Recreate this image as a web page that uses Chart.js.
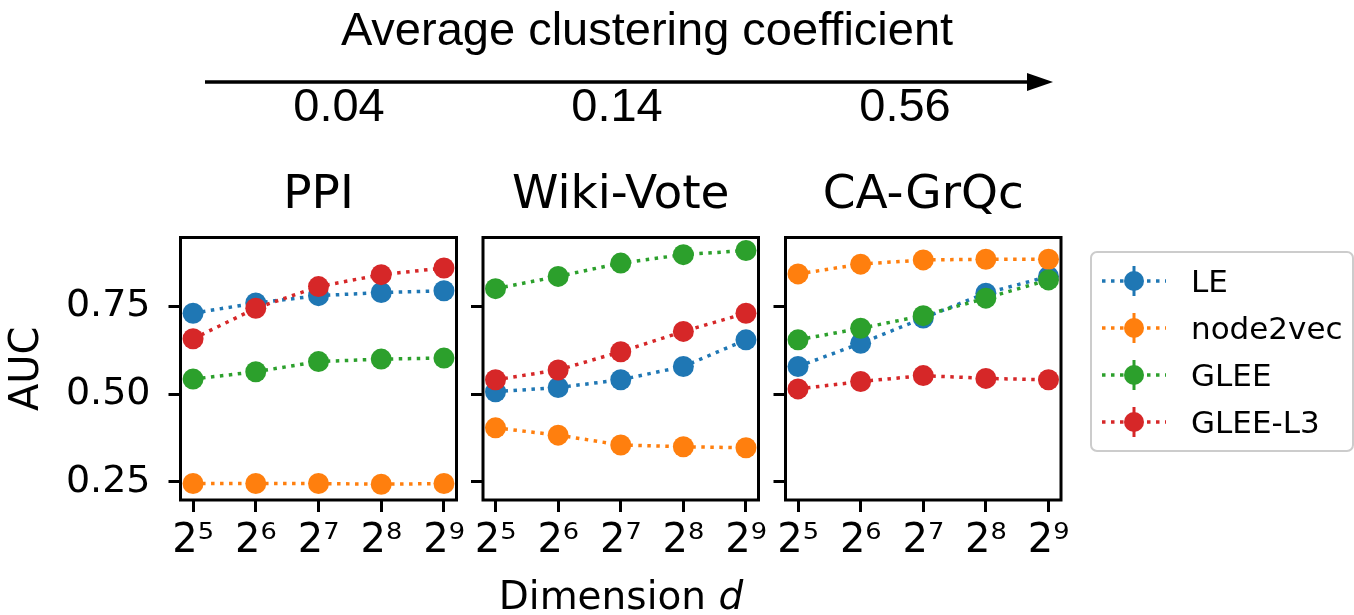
<!DOCTYPE html>
<html>
<head>
<meta charset="utf-8">
<script src="https://cdn.jsdelivr.net/npm/chart.js@4.4.0/dist/chart.umd.min.js"></script>
<style>
  body { margin: 0; background: #fff; width: 1354px; height: 615px; position: relative; overflow: hidden; }
  canvas { position: absolute; left: 0; top: 0; }
  svg { position: absolute; left: 0; top: 0; }
</style>
</head>
<body>
<canvas id="c1" width="1354" height="615"></canvas>
<canvas id="c2" width="1354" height="615"></canvas>
<canvas id="c3" width="1354" height="615"></canvas>

<svg width="1354" height="615" xmlns="http://www.w3.org/2000/svg">
  <g font-family="'Liberation Sans', Arial, sans-serif" font-size="47" fill="#000" text-anchor="middle">
    <text x="647" y="45">Average clustering coefficient</text>
    <text x="339" y="121">0.04</text>
    <text x="617" y="121">0.14</text>
    <text x="905" y="121">0.56</text>
  </g>
  <line x1="205" y1="82" x2="1030" y2="82" stroke="#000" stroke-width="3.5"/>
  <polygon points="1027,73 1053,82 1027,91" fill="#000"/>
  <text x="621" y="609" font-family="'DejaVu Sans', sans-serif" font-size="39" text-anchor="middle">Dimension <tspan font-style="italic">d</tspan></text>
  <rect x="1091" y="252" width="262" height="199" rx="6" ry="6" fill="#fff" stroke="#ccc" stroke-width="2"/>
  <g id="legend"></g>
</svg>

<script>
// x positions are log2 of the embedding dimension
const dims = [5, 6, 7, 8, 9];
const methods = ['LE', 'node2vec', 'GLEE', 'GLEE-L3'];
const colors = ['#1f77b4', '#ff7f0e', '#2ca02c', '#d62728'];

// AUC values
const ppiLE       = [0.731, 0.760, 0.781, 0.790, 0.795];
const ppiNode2vec = [0.245, 0.245, 0.245, 0.243, 0.245];
const ppiGLEE     = [0.543, 0.564, 0.593, 0.600, 0.603];
const ppiGLEEL3   = [0.658, 0.745, 0.807, 0.841, 0.860];

const wikiLE       = [0.507, 0.519, 0.541, 0.579, 0.655];
const wikiNode2vec = [0.404, 0.383, 0.355, 0.350, 0.347];
const wikiGLEE     = [0.801, 0.836, 0.874, 0.898, 0.910];
const wikiGLEEL3   = [0.541, 0.569, 0.621, 0.679, 0.731];

const grqcLE       = [0.579, 0.645, 0.717, 0.788, 0.836];
const grqcNode2vec = [0.843, 0.871, 0.883, 0.885, 0.885];
const grqcGLEE     = [0.655, 0.688, 0.724, 0.774, 0.826];
const grqcGLEEL3   = [0.515, 0.536, 0.553, 0.545, 0.541];

const yTicks = [0.25, 0.50, 0.75];

const panels = [
    { id: 'c1', title: 'PPI',       series: [ppiLE, ppiNode2vec, ppiGLEE, ppiGLEEL3],     left: 180.5, right: 456.5,  labels: true },
    { id: 'c2', title: 'Wiki-Vote', series: [wikiLE, wikiNode2vec, wikiGLEE, wikiGLEEL3], left: 483,   right: 758.5,  labels: false },
    { id: 'c3', title: 'CA-GrQc',   series: [grqcLE, grqcNode2vec, grqcGLEE, grqcGLEEL3], left: 785.5, right: 1061,   labels: false }
];
const plotTop = 237.5, plotBottom = 500, xAxisH = 60;
const W = 1354, H = 615;
const sup = { 5: '\u2075', 6: '\u2076', 7: '\u2077', 8: '\u2078', 9: '\u2079' };
const font = "'DejaVu Sans', sans-serif";

// frame around the axes plus the subplot title
const framePlugin = {
    id: 'frame',
    afterDraw(chart, args, opts) {
        const a = chart.chartArea;
        const ctx = chart.ctx;
        ctx.save();
        ctx.strokeStyle = '#000';
        ctx.lineWidth = 3;
        ctx.strokeRect(a.left, a.top, a.right - a.left, a.bottom - a.top);
        ctx.fillStyle = '#000';
        ctx.font = '47px ' + font;
        ctx.textAlign = 'center';
        ctx.textBaseline = 'alphabetic';
        ctx.fillText(opts.text, (a.left + a.right) / 2, a.top - 29.5);
        ctx.restore();
    }
};

panels.forEach(p => {
    const datasets = p.series.map((vals, i) => ({
        label: methods[i],
        data: vals.map((v, j) => ({ x: dims[j], y: v })),
        borderColor: colors[i],
        backgroundColor: colors[i],
        pointBackgroundColor: colors[i],
        pointBorderWidth: 0,
        pointRadius: 10.5,
        borderWidth: 3.5,
        borderDash: [3.5, 5.5],
        tension: 0,
        order: methods.length - i
    }));

    new Chart(document.getElementById(p.id), {
        type: 'line',
        data: { datasets: datasets },
        plugins: [framePlugin],
        options: {
            responsive: false,
            animation: false,
            events: [],
            layout: { padding: { left: 0, right: W - p.right, top: plotTop, bottom: H - plotBottom - xAxisH } },
            plugins: {
                legend: { display: false },
                tooltip: { enabled: false },
                frame: { text: p.title }
            },
            scales: {
                x: {
                    type: 'linear',
                    min: 4.8,
                    max: 9.2,
                    afterBuildTicks: s => { s.ticks = dims.map(v => ({ value: v })); },
                    afterFit: s => { s.height = xAxisH; },
                    border: { display: false },
                    grid: { display: true, drawOnChartArea: false, drawTicks: true, tickLength: 12, tickWidth: 3, tickColor: '#000' },
                    ticks: {
                        color: '#000',
                        font: { family: font, size: 40 },
                        padding: 6,
                        maxRotation: 0,
                        callback: v => '2' + sup[v]
                    }
                },
                y: {
                    min: 0.198,
                    max: 0.947,
                    afterBuildTicks: s => { s.ticks = yTicks.map(v => ({ value: v })); },
                    afterFit: s => { s.width = p.left; },
                    border: { display: false },
                    grid: { display: true, drawOnChartArea: false, drawTicks: true, tickLength: 12, tickWidth: 3, tickColor: '#000' },
                    ticks: {
                        display: p.labels,
                        color: '#000',
                        font: { family: font, size: 38 },
                        padding: 18,
                        callback: v => v.toFixed(2)
                    },
                    title: {
                        display: p.labels,
                        text: 'AUC',
                        color: '#000',
                        font: { family: font, size: 40 },
                        padding: { top: 4, bottom: 0 }
                    }
                }
            }
        }
    });
});

// legend entries: dotted line, marker and error-bar cap, like the matplotlib handle
const legendRows = [281, 328, 375, 422];
const ns = 'http://www.w3.org/2000/svg';
const lg = document.getElementById('legend');
methods.forEach((m, i) => {
    const y = legendRows[i];
    const line = document.createElementNS(ns, 'line');
    line.setAttribute('x1', 1102); line.setAttribute('x2', 1166);
    line.setAttribute('y1', y); line.setAttribute('y2', y);
    line.setAttribute('stroke', colors[i]); line.setAttribute('stroke-width', 3.5);
    line.setAttribute('stroke-dasharray', '3.5 5.5');
    lg.appendChild(line);
    const bar = document.createElementNS(ns, 'line');
    bar.setAttribute('x1', 1134); bar.setAttribute('x2', 1134);
    bar.setAttribute('y1', y - 15); bar.setAttribute('y2', y + 15);
    bar.setAttribute('stroke', colors[i]); bar.setAttribute('stroke-width', 3);
    lg.appendChild(bar);
    const dot = document.createElementNS(ns, 'circle');
    dot.setAttribute('cx', 1134); dot.setAttribute('cy', y); dot.setAttribute('r', 10);
    dot.setAttribute('fill', colors[i]);
    lg.appendChild(dot);
    const t = document.createElementNS(ns, 'text');
    t.setAttribute('x', 1191); t.setAttribute('y', y + 11);
    t.setAttribute('font-family', "'DejaVu Sans', sans-serif");
    t.setAttribute('font-size', 31);
    t.textContent = m;
    lg.appendChild(t);
});
</script>
</body>
</html>
